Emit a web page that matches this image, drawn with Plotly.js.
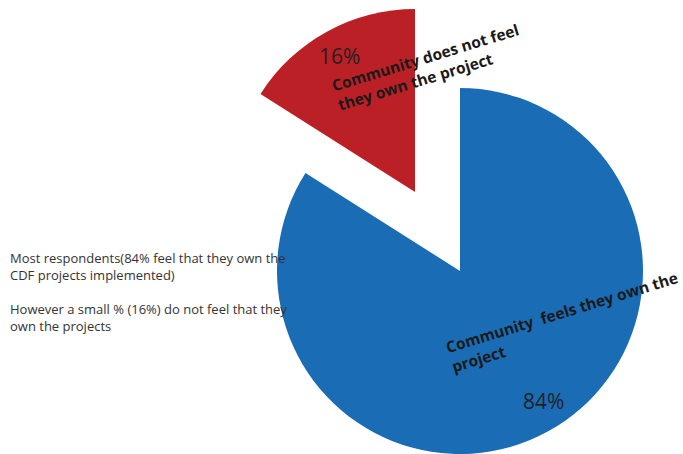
<!DOCTYPE html>
<html>
<head>
<meta charset="utf-8">
<script src="https://cdn.plot.ly/plotly-3.0.1.min.js"></script>
<style>html,body{margin:0;padding:0;background:#fff;}#chart{width:683px;height:454px;}</style>
</head>
<body>
<div id="chart"></div>
<script>
const categories = ["Community feels they own the project", "Community does not feel they own the project"];
const values = [84, 16];
const percentLabels = ["84%", "16%"];
const sliceColors = ["#1a6cb4", "#bb2026"];
const noteLines = [
  "Most respondents(84% feel that they own the",
  "CDF projects implemented)",
  "",
  "However a small % (16%) do not feel that they",
  "own the projects"
];

// Blue (main) pie, red slice hidden
const mainPie = {
  type: "pie",
  values: values,
  labels: categories,
  sort: false,
  direction: "clockwise",
  textinfo: "none",
  hoverinfo: "label+percent",
  marker: {colors: [sliceColors[0], "rgba(0,0,0,0)"], line: {width: 0}},
  domain: {x: [277/683, 643/683], y: [1 - 454/454, 1 - 88/454]},
  showlegend: false
};
// Exploded red slice, blue hidden
const pulledPie = {
  type: "pie",
  values: values,
  labels: categories,
  sort: false,
  direction: "clockwise",
  textinfo: "none",
  hoverinfo: "label+percent",
  marker: {colors: ["rgba(0,0,0,0)", sliceColors[1]], line: {width: 0}},
  domain: {x: [232/683, 598/683], y: [1 - 375/454, 1 - 9/454]},
  showlegend: false
};

const labelFont = {family: "Open Sans, sans-serif", size: 15.5, color: "#1a1a1a", weight: 700};
const pctFont = {family: "Open Sans, sans-serif", size: 21, color: "#222"};

const base = {xref: "paper", yref: "paper", showarrow: false, xanchor: "center", yanchor: "middle"};
const annotations = [
  Object.assign({}, base, {text: percentLabels[1], x: 339/683, y: 1 - 56/454, font: pctFont}),
  Object.assign({}, base, {text: percentLabels[0], x: 543/683, y: 1 - 401/454, font: pctFont}),
  Object.assign({}, base, {text: "<b>Community does not feel<br>they own the project</b>", x: 428/683, y: 1 - 67/454,
   textangle: -17, align: "left", font: labelFont}),
  Object.assign({}, base, {text: "<b>Community  feels they own the<br>project</b>", x: 564/683, y: 1 - 322/454,
   textangle: -17, align: "left", font: labelFont}),
  Object.assign({}, base, {text: noteLines.join("<br>"), x: 8/683, y: 1 - 292/454, xanchor: "left",
   align: "left", font: {family: "Open Sans, sans-serif", size: 13, color: "#333"}})
];

Plotly.newPlot("chart", [mainPie, pulledPie], {
  width: 683, height: 454,
  margin: {l: 0, r: 0, t: 0, b: 0},
  paper_bgcolor: "#fff",
  showlegend: false,
  annotations: annotations
}, {displayModeBar: false, staticPlot: true});
</script>
</body>
</html>
